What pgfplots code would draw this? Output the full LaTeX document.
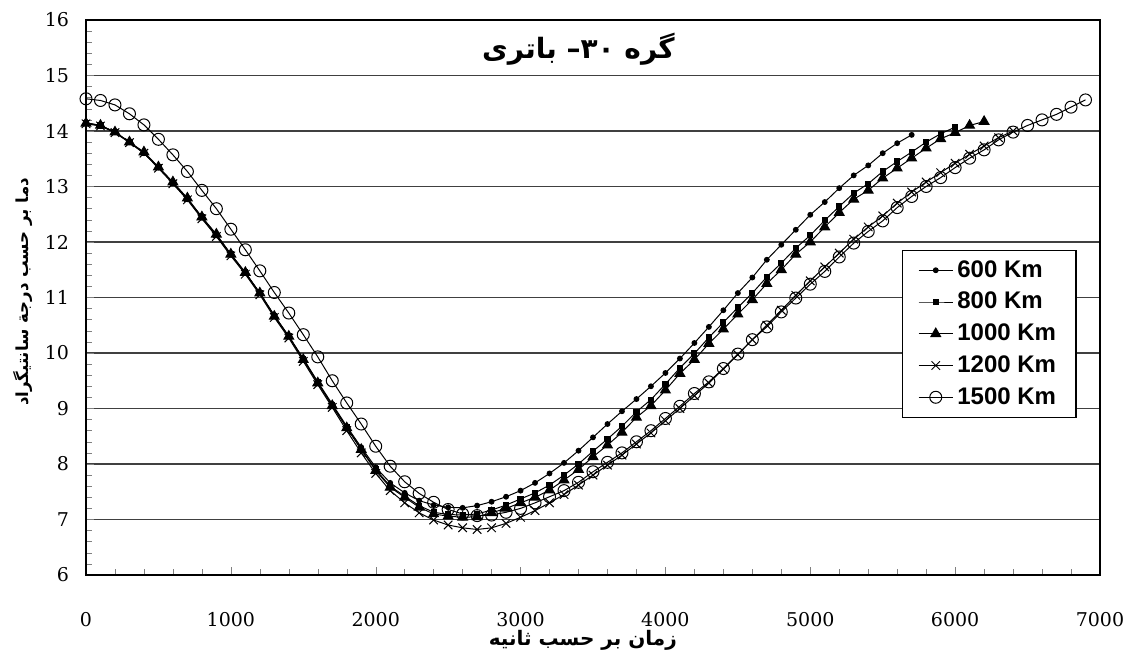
\documentclass[border=0pt]{standalone}
\usepackage{fontspec}
\setmainfont{DejaVu Serif}
\setsansfont{Liberation Sans}
\newfontfamily\arabicfont[Script=Arabic]{DejaVu Sans}
\TeXXeTstate=1
\usepackage{pgfplots}
\pgfplotsset{compat=1.18}

\begin{document}
\begin{tikzpicture}[x=1pt,y=1pt]
\path (0,0) rectangle (565.5,329);
\begin{axis}[
    at={(43pt,41.5pt)}, anchor=south west,
    width=507pt, height=277.5pt, scale only axis,
    xmin=0, xmax=7000, ymin=6, ymax=16,
    xtick={0,1000,...,7000}, ytick={6,7,...,16},
    minor x tick num=4, minor y tick num=4,
    xtick pos=bottom, ytick pos=left, tick align=inside,
    major tick length=4pt, minor tick length=3pt,
    ymajorgrids, major grid style={black!75, line width=0.7pt},
    axis line style={line width=1pt},
    /pgf/number format/assume math mode=true,
    /pgf/number format/1000 sep={},
    tick label style={font=\fontsize{9.5}{11}\selectfont},
    xticklabel style={yshift=-15pt},
    yticklabel style={xshift=-5pt},
    xlabel={\arabicfont\bfseries\fontsize{10}{12}\selectfont\beginR زمان بر حسب ثانیه\endR},
    xlabel style={at={(axis description cs:0.49,-0.117)}, anchor=center},
    ylabel={\arabicfont\bfseries\fontsize{8.3}{10}\selectfont\beginR دما بر حسب درجة سانتیگراد\endR},
    ylabel style={at={(axis description cs:-0.062,0.51)}, anchor=center, rotate=0},
    legend style={at={(0.977,0.586)}, anchor=north east, draw=black, fill=white,
        font=\sffamily\bfseries\fontsize{12}{13}\selectfont, row sep=2pt,
        inner xsep=8pt, inner ysep=3pt, line width=0.6pt},
    legend cell align=left,
    every axis plot/.append style={black, line width=0.5pt},
]

\addplot[mark=*, mark size=1.2pt] table {
0 14.15
100 14.10
200 13.98
300 13.80
400 13.60
500 13.34
600 13.06
700 12.77
800 12.44
900 12.12
1000 11.77
1100 11.44
1200 11.08
1300 10.68
1400 10.30
1500 9.90
1600 9.48
1700 9.08
1800 8.68
1900 8.30
2000 7.94
2100 7.66
2200 7.48
2300 7.34
2400 7.26
2500 7.22
2600 7.21
2700 7.25
2800 7.32
2900 7.41
3000 7.52
3100 7.66
3200 7.83
3300 8.02
3400 8.24
3500 8.48
3600 8.72
3700 8.95
3800 9.17
3900 9.40
4000 9.64
4100 9.90
4200 10.18
4300 10.47
4400 10.77
4500 11.08
4600 11.36
4700 11.68
4800 11.95
4900 12.22
5000 12.49
5100 12.72
5200 12.97
5300 13.20
5400 13.38
5500 13.60
5600 13.78
5700 13.93
};
\addlegendentry{600 Km}

\addplot[mark=square*, mark size=1.3pt] table {
0 14.14
100 14.10
200 13.98
300 13.80
400 13.61
500 13.35
600 13.07
700 12.78
800 12.45
900 12.13
1000 11.78
1100 11.45
1200 11.08
1300 10.67
1400 10.30
1500 9.89
1600 9.47
1700 9.06
1800 8.66
1900 8.27
2000 7.90
2100 7.60
2200 7.42
2300 7.25
2400 7.13
2500 7.09
2600 7.08
2700 7.10
2800 7.17
2900 7.26
3000 7.37
3100 7.48
3200 7.62
3300 7.80
3400 8.00
3500 8.23
3600 8.45
3700 8.68
3800 8.94
3900 9.16
4000 9.44
4100 9.73
4200 9.99
4300 10.28
4400 10.55
4500 10.82
4600 11.08
4700 11.37
4800 11.62
4900 11.89
5000 12.12
5100 12.39
5200 12.64
5300 12.88
5400 13.05
5500 13.27
5600 13.45
5700 13.62
5800 13.80
5900 13.95
6000 14.07
};
\addlegendentry{800 Km}

\addplot[mark=triangle*, mark size=2.8pt] table {
0 14.14
100 14.10
200 13.98
300 13.80
400 13.62
500 13.35
600 13.08
700 12.79
800 12.45
900 12.14
1000 11.78
1100 11.45
1200 11.08
1300 10.66
1400 10.30
1500 9.88
1600 9.46
1700 9.05
1800 8.65
1900 8.26
2000 7.88
2100 7.58
2200 7.40
2300 7.22
2400 7.10
2500 7.06
2600 7.04
2700 7.05
2800 7.12
2900 7.20
3000 7.30
3100 7.40
3200 7.53
3300 7.71
3400 7.90
3500 8.13
3600 8.34
3700 8.57
3800 8.84
3900 9.05
4000 9.33
4100 9.63
4200 9.88
4300 10.17
4400 10.43
4500 10.70
4600 10.96
4700 11.25
4800 11.50
4900 11.78
5000 12.00
5100 12.27
5200 12.53
5300 12.77
5400 12.93
5500 13.15
5600 13.33
5700 13.51
5800 13.69
5900 13.86
6000 13.97
6100 14.10
6200 14.17
};
\addlegendentry{1000 Km}

\addplot[mark=x, mark size=3pt] table {
0 14.13
100 14.09
200 13.97
300 13.79
400 13.60
500 13.33
600 13.05
700 12.76
800 12.42
900 12.10
1000 11.75
1100 11.42
1200 11.05
1300 10.64
1400 10.27
1500 9.85
1600 9.43
1700 9.02
1800 8.60
1900 8.20
2000 7.83
2100 7.52
2200 7.30
2300 7.12
2400 6.99
2500 6.90
2600 6.85
2700 6.82
2800 6.85
2900 6.93
3000 7.04
3100 7.16
3200 7.30
3300 7.45
3400 7.62
3500 7.80
3600 7.98
3700 8.16
3800 8.36
3900 8.56
4000 8.78
4100 9.00
4200 9.23
4300 9.46
4400 9.71
4500 9.97
4600 10.24
4700 10.50
4800 10.77
4900 11.04
5000 11.30
5100 11.55
5200 11.80
5300 12.05
5400 12.27
5500 12.47
5600 12.70
5700 12.90
5800 13.08
5900 13.25
6000 13.42
6100 13.58
6200 13.73
6300 13.88
6400 14.00
};
\addlegendentry{1200 Km}

\addplot[mark=o, mark size=3pt] table {
0 14.58
100 14.55
200 14.47
300 14.31
400 14.11
500 13.85
600 13.57
700 13.27
800 12.93
900 12.60
1000 12.23
1100 11.86
1200 11.48
1300 11.09
1400 10.72
1500 10.33
1600 9.93
1700 9.50
1800 9.10
1900 8.72
2000 8.32
2100 7.96
2200 7.68
2300 7.47
2400 7.31
2500 7.18
2600 7.10
2700 7.07
2800 7.08
2900 7.13
3000 7.20
3100 7.30
3200 7.41
3300 7.52
3400 7.67
3500 7.86
3600 8.03
3700 8.20
3800 8.40
3900 8.60
4000 8.82
4100 9.04
4200 9.27
4300 9.48
4400 9.72
4500 9.98
4600 10.24
4700 10.47
4800 10.74
4900 10.99
5000 11.24
5100 11.47
5200 11.73
5300 11.98
5400 12.19
5500 12.38
5600 12.62
5700 12.82
5800 13.00
5900 13.16
6000 13.34
6100 13.51
6200 13.66
6300 13.84
6400 13.98
6500 14.10
6600 14.20
6700 14.30
6800 14.43
6900 14.56
};
\addlegendentry{1500 Km}

\node[font=\arabicfont\bfseries\fontsize{14}{16}\selectfont] at (axis cs:3400,15.47)
    {\beginR گره ۳۰\hbox{–}\ باتری\endR};
\end{axis}
\end{tikzpicture}
\end{document}
